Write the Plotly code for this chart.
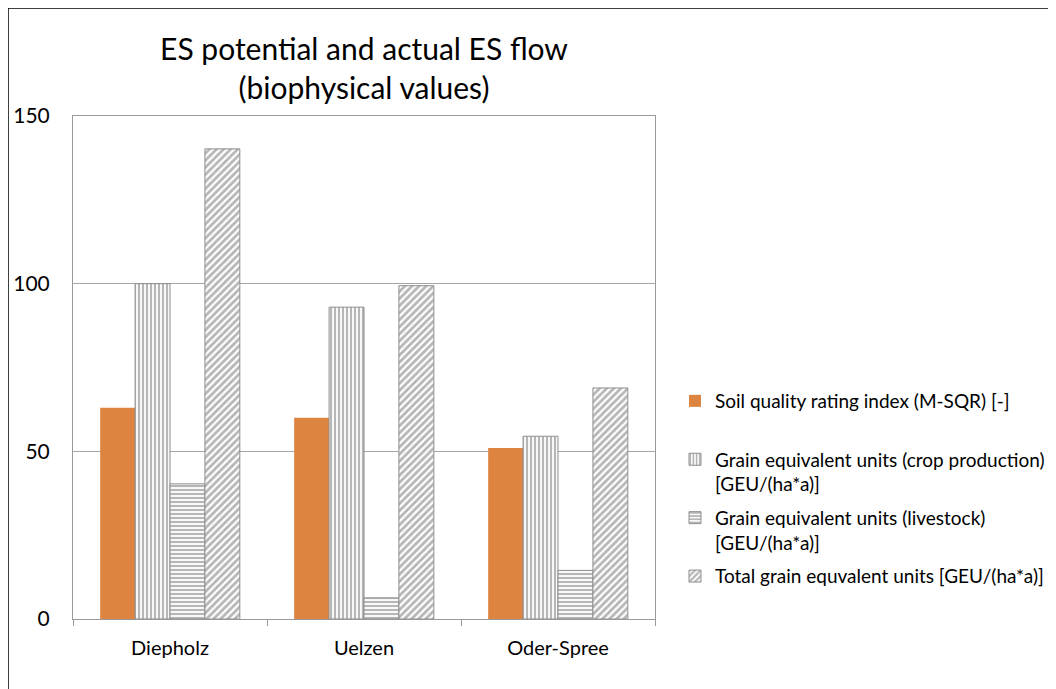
import plotly.graph_objects as go

categories = ["Diepholz", "Uelzen", "Oder-Spree"]
soil_quality = [63, 60, 51]
geu_crop = [100, 93, 54.5]
geu_livestock = [40.3, 6.3, 14.5]
geu_total = [140.2, 99.4, 68.9]

series_names = [
    "Soil quality rating index (M-SQR) [-]<br> ",
    "Grain equivalent units (crop production)<br>[GEU/(ha*a)]",
    "Grain equivalent units (livestock)<br>[GEU/(ha*a)]",
    "Total grain equvalent units [GEU/(ha*a)]",
]
y_ticks = [0, 50, 100, 150]

FONT = "Lato"
GREY = "#6e6e6e"

# figure geometry (page has an 8px body margin)
W, H = 1048, 681
L, T, PW, PH = 65, 108, 582, 503

fig = go.Figure()
fig.add_trace(go.Bar(
    x=categories, y=soil_quality, name=series_names[0], legendgroup="a",
    marker=dict(color="#DD8440", line=dict(width=0)),
))
fig.add_trace(go.Bar(
    x=categories, y=geu_crop, name=series_names[1], legendgroup="b",
    marker=dict(color="white", line=dict(color="#8f8f8f", width=1),
                pattern=dict(shape="|", fgcolor=GREY, bgcolor="white", size=4, solidity=0.55)),
))
fig.add_trace(go.Bar(
    x=categories, y=geu_livestock, name=series_names[2], legendgroup="c",
    marker=dict(color="white", line=dict(color="#8f8f8f", width=1),
                pattern=dict(shape="-", fgcolor=GREY, bgcolor="white", size=4, solidity=0.55)),
))
fig.add_trace(go.Bar(
    x=categories, y=geu_total, name=series_names[3], legendgroup="d",
    marker=dict(color="white", line=dict(color="#8f8f8f", width=1),
                pattern=dict(shape="/", fgcolor=GREY, bgcolor="white", size=5, solidity=0.55)),
))

fig.update_layout(
    width=W, height=H,
    margin=dict(l=L, r=W - L - PW, t=T, b=H - T - PH, autoexpand=False),
    paper_bgcolor="white", plot_bgcolor="white",
    barmode="group", bargap=0.28, bargroupgap=0,
    font=dict(family=FONT, color="#000000"),
    title=dict(text="ES potential and actual ES flow<br>(biophysical values)",
               x=356 / W, xanchor="center", y=1 - 52 / H, yanchor="middle",
               font=dict(size=30, family=FONT, color="#000000")),
    showlegend=True,
    legend=dict(x=(667 - L) / PW, xanchor="left", y=(T + PH - 374) / PH, yanchor="top",
                valign="top", font=dict(size=19, family=FONT, color="#000000"),
                tracegroupgap=6, bgcolor="rgba(0,0,0,0)"),
)
fig.update_xaxes(
    showline=True, linecolor="#9a9a9a", linewidth=1, mirror=True,
    ticks="outside", tickson="boundaries", ticklen=6, tickcolor="#9a9a9a",
    tickfont=dict(size=20, family=FONT), showgrid=False, ticklabelstandoff=11,
    automargin=False,
)
fig.update_yaxes(
    range=[0, 150], tickvals=y_ticks, showline=True, linecolor="#9a9a9a", linewidth=1,
    mirror=True, showgrid=True, gridcolor="#a6a6a6", gridwidth=1,
    ticks="", tickfont=dict(size=21, family=FONT), ticklabelstandoff=18, zeroline=False,
    automargin=False,
)

# outer chart frame
fig.add_shape(type="rect", xref="paper", yref="paper",
              x0=(0 - L) / PW, x1=(W + 20 - L) / PW,
              y0=(T + PH - (H + 20)) / PH, y1=(T + PH - 0) / PH,
              line=dict(color="#000000", width=1.5), layer="above")

fig.write_html("out.html")
